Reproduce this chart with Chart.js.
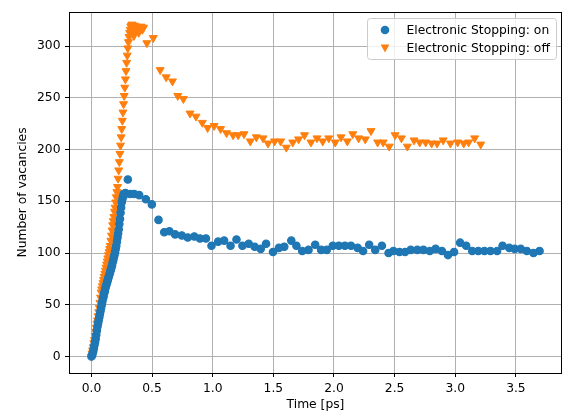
<!DOCTYPE html>
<html>
<head>
<meta charset="utf-8">
<script src="https://cdn.jsdelivr.net/npm/chart.js@4"></script>
<style>
  html, body { margin: 0; padding: 0; background: #ffffff; }
  #wrap { width: 570px; height: 414px; }
</style>
</head>
<body>
<div id="wrap"><canvas id="chart" width="570" height="414"></canvas></div>
<script>
// Vacancy counts over time, with and without electronic stopping
const seriesLabels = ['Electronic Stopping: on', 'Electronic Stopping: off'];

const onTime = [
  0.000, 0.005, 0.010, 0.015, 0.020, 0.025, 0.030, 0.035, 0.040, 0.045,
  0.050, 0.055, 0.060, 0.065, 0.070, 0.075, 0.080, 0.085, 0.090, 0.095,
  0.100, 0.105, 0.110, 0.115, 0.120, 0.125, 0.130, 0.135, 0.140, 0.145,
  0.150, 0.155, 0.160, 0.165, 0.170, 0.175, 0.180, 0.185, 0.190, 0.195,
  0.200, 0.205, 0.210, 0.215, 0.220, 0.225, 0.230, 0.235, 0.240, 0.245,
  0.250, 0.255, 0.260, 0.265, 0.270, 0.280, 0.300, 0.320, 0.353, 0.394,
  0.449, 0.498, 0.553, 0.600, 0.643, 0.690, 0.745, 0.794, 0.848, 0.895,
  0.944, 0.990, 1.045, 1.094, 1.147, 1.196, 1.245, 1.297, 1.346, 1.396,
  1.440, 1.497, 1.546, 1.590, 1.648, 1.690, 1.738, 1.790, 1.845, 1.894,
  1.940, 1.990, 2.040, 2.090, 2.140, 2.195, 2.240, 2.290, 2.340, 2.395,
  2.450, 2.490, 2.540, 2.586, 2.633, 2.687, 2.737, 2.790, 2.838, 2.890,
  2.940, 2.990, 3.040, 3.090, 3.140, 3.190, 3.240, 3.290, 3.345, 3.390,
  3.445, 3.490, 3.540, 3.590, 3.645, 3.695
];
const onVacancies = [
  0, 1, 3, 5, 8, 11, 14, 17, 21, 25,
  29, 32, 35, 38, 41, 44, 47, 50, 53, 56,
  58, 61, 63, 66, 68, 70, 72, 74, 76, 78,
  80, 82, 84, 86, 88, 91, 93, 96, 98, 101,
  104, 107, 111, 115, 119, 123, 128, 133, 139, 144,
  149, 152, 155, 157, 156, 158, 171, 157, 157, 156,
  152, 147, 132, 120, 121, 118, 117, 115, 116, 114,
  114, 107, 111, 112, 107, 113, 107, 109, 106, 104,
  109, 101, 105, 106, 112, 107, 102, 103, 108, 103,
  103, 107, 107, 107, 107, 105, 102, 108, 103, 107,
  100, 102, 101, 101, 103, 103, 103, 102, 104, 102,
  98, 101, 110, 107, 102, 102, 102, 102, 102, 107,
  105, 104, 104, 102, 100, 102
];

const offTime = [
  0.000, 0.005, 0.010, 0.015, 0.020, 0.025, 0.030, 0.035, 0.040, 0.045,
  0.050, 0.055, 0.060, 0.065, 0.070, 0.075, 0.080, 0.085, 0.090, 0.095,
  0.100, 0.105, 0.110, 0.115, 0.120, 0.125, 0.130, 0.135, 0.140, 0.145,
  0.150, 0.155, 0.160, 0.165, 0.170, 0.175, 0.180, 0.185, 0.190, 0.195,
  0.200, 0.205, 0.210, 0.215, 0.220, 0.225, 0.230, 0.235, 0.240, 0.245,
  0.250, 0.255, 0.260, 0.265, 0.270, 0.275, 0.280, 0.285, 0.290, 0.295,
  0.300, 0.305, 0.310, 0.315, 0.320, 0.325, 0.330, 0.335, 0.340, 0.345,
  0.350, 0.355, 0.360, 0.370, 0.380, 0.390, 0.400, 0.410, 0.420, 0.430,
  0.457, 0.510, 0.567, 0.616, 0.668, 0.712, 0.758, 0.813, 0.862, 0.914,
  0.958, 1.012, 1.065, 1.114, 1.168, 1.210, 1.258, 1.310, 1.360, 1.415,
  1.456, 1.510, 1.560, 1.607, 1.660, 1.708, 1.757, 1.810, 1.860, 1.907,
  1.957, 2.010, 2.058, 2.110, 2.155, 2.203, 2.258, 2.305, 2.360, 2.405,
  2.455, 2.504, 2.556, 2.605, 2.660, 2.707, 2.756, 2.805, 2.850, 2.900,
  2.960, 3.020, 3.070, 3.110, 3.160, 3.210
];
const offVacancies = [
  0, 3, 6, 9, 13, 16, 20, 24, 28, 32,
  35, 39, 43, 47, 52, 57, 62, 65, 68, 71,
  74, 77, 80, 83, 86, 89, 92, 95, 98, 101,
  104, 107, 112, 117, 122, 127, 131, 135, 140, 144,
  149, 154, 159, 164, 172, 180, 188, 196, 204, 212,
  220, 228, 236, 244, 252, 260, 268, 276, 284, 291,
  298, 304, 309, 313, 316, 319, 320, 321, 314, 319,
  310, 320, 316, 319, 318, 313, 318, 319, 316, 318,
  303, 308, 277, 270, 266, 252, 249, 235, 232, 226,
  221, 223, 220, 216, 214, 214, 215, 208, 212, 211,
  206, 208, 208, 202, 207, 210, 214, 207, 211, 208,
  211, 207, 212, 208, 215, 211, 210, 218, 207, 207,
  203, 214, 211, 203, 209, 207, 207, 206, 206, 209,
  206, 207, 206, 207, 211, 205
];

const xTickValues = [0.0, 0.5, 1.0, 1.5, 2.0, 2.5, 3.0, 3.5];
const yTickValues = [0, 50, 100, 150, 200, 250, 300];

const BLUE = '#1f77b4';
const ORANGE = '#ff7f0e';
const FONT = 'DejaVu Sans';
const FS = 12.3;

function toPoints(xs, ys) {
  return xs.map((x, i) => ({ x: x, y: ys[i] }));
}

// Frame around the plotting area (all four sides)
const frame = {
  id: 'frame',
  afterDatasetsDraw(chart) {
    const { ctx, chartArea: a } = chart;
    ctx.save();
    ctx.strokeStyle = '#000';
    ctx.lineWidth = 1;
    ctx.strokeRect(Math.round(a.left) + 0.5, Math.round(a.top) + 0.5,
                   Math.round(a.right - a.left) - 1, Math.round(a.bottom - a.top));
    ctx.restore();
  }
};

// Legend box in the upper-right corner of the axes
const cornerLegend = {
  id: 'cornerLegend',
  afterDraw(chart) {
    const { ctx, chartArea: a } = chart;
    const w = 189, h = 41;
    const x0 = a.right - 6 - w, y0 = a.top + 6;
    ctx.save();
    ctx.beginPath();
    ctx.roundRect(x0 + 0.5, y0 + 0.5, w, h, 3);
    ctx.fillStyle = 'rgba(255,255,255,0.8)';
    ctx.fill();
    ctx.strokeStyle = '#cccccc';
    ctx.lineWidth = 1;
    ctx.stroke();

    const mx = x0 + 18;
    const rows = [y0 + 12, y0 + 30];
    chart.data.datasets.forEach((ds, i) => {
      const cy = rows[i];
      ctx.fillStyle = ds.backgroundColor;
      ctx.beginPath();
      if (i === 0) {
        ctx.arc(mx, cy, 4.3, 0, Math.PI * 2);
      } else {
        ctx.moveTo(mx - 4.4, cy - 3.6);
        ctx.lineTo(mx + 4.4, cy - 3.6);
        ctx.lineTo(mx, cy + 4.6);
        ctx.closePath();
      }
      ctx.fill();
      ctx.fillStyle = '#000';
      ctx.font = FS + 'px "' + FONT + '"';
      ctx.textBaseline = 'middle';
      ctx.textAlign = 'left';
      ctx.fillText(ds.label, x0 + 39.5, cy + 0.5);
    });
    ctx.restore();
  }
};

Chart.defaults.font.family = FONT;
Chart.defaults.font.size = FS;
Chart.defaults.color = '#000';

new Chart(document.getElementById('chart'), {
  type: 'scatter',
  data: {
    datasets: [
      {
        label: seriesLabels[0],
        data: toPoints(onTime, onVacancies),
        pointStyle: 'circle',
        pointRadius: 3.7,
        pointBorderWidth: 1.2,
        backgroundColor: BLUE,
        borderColor: BLUE
      },
      {
        label: seriesLabels[1],
        data: toPoints(offTime, offVacancies),
        pointStyle: 'triangle',
        rotation: 180,
        pointRadius: 4.6,
        pointBorderWidth: 1,
        backgroundColor: ORANGE,
        borderColor: ORANGE
      }
    ]
  },
  options: {
    responsive: false,
    animation: false,
    devicePixelRatio: 1,
    layout: { padding: { top: 12, right: 8, left: 0, bottom: 0 } },
    plugins: {
      legend: { display: false },
      tooltip: { enabled: false }
    },
    scales: {
      x: {
        type: 'linear',
        min: -0.185,
        max: 3.88,
        afterBuildTicks(scale) { scale.ticks = xTickValues.map(v => ({ value: v })); },
        afterFit(scale) { scale.height = 41; },
        ticks: {
          autoSkip: false,
          maxRotation: 0,
          padding: 4,
          callback: v => Number(v).toFixed(1)
        },
        grid: { color: '#b0b0b0', lineWidth: 1, tickLength: 4, tickColor: '#000', tickWidth: 1 },
        border: { display: false },
        title: { display: true, text: 'Time [ps]', padding: { top: 0, bottom: 2 } }
      },
      y: {
        type: 'linear',
        min: -16,
        max: 333,
        afterBuildTicks(scale) { scale.ticks = yTickValues.map(v => ({ value: v })); },
        afterFit(scale) { scale.width = 69; },
        ticks: { autoSkip: false, padding: 4.5, callback: v => String(v) },
        grid: { color: '#b0b0b0', lineWidth: 1, tickLength: 4, tickColor: '#000', tickWidth: 1 },
        border: { display: false },
        title: { display: true, text: 'Number of vacancies', padding: { top: 15, bottom: 0 } }
      }
    }
  },
  plugins: [frame, cornerLegend]
});
</script>
</body>
</html>
